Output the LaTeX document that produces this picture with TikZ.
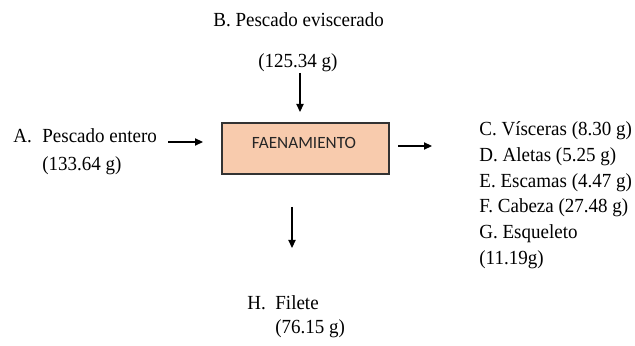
\documentclass[tikz,border=0pt]{standalone}
\usepackage{fontspec}
\setmainfont{Liberation Serif}[FakeStretch=0.95]
\newfontfamily\boxfont{Carlito}
\usetikzlibrary{arrows.meta}
\definecolor{peach}{HTML}{F8CBAD}
\begin{document}
\begin{tikzpicture}[x=0.5pt,y=-0.5pt,
  lbl/.style={anchor=base west,inner sep=0pt,font=\fontsize{10}{13}\selectfont},
  flow/.style={line width=0.6pt,-{Triangle[length=4pt,width=3.6pt]}},
  proc/.style={draw=black!80,line width=0.6pt,fill=peach,minimum width=83.5pt,minimum height=25.5pt,inner sep=0pt}]
\useasboundingbox (0,0) rectangle (635,346);
% process box
\node[proc] (box) at (305.5,148.5) {};
\node[inner sep=0pt,font=\boxfont\fontsize{8.6}{10}\selectfont,text=black!85] (boxtxt) at (304,143) {FAENAMIENTO};
% B input
\node[lbl] (b1) at (213,27) {B. Pescado eviscerado};
\node[lbl] (b2) at (258,68) {(125.34 g)};
% A input
\node[lbl] (a0) at (13,143) {A.};
\node[lbl] (a1) at (42,143) {Pescado entero};
\node[lbl] (a2) at (42,171) {(133.64 g)};
% outputs right
\node[lbl] (c1) at (479,136) {C. Vísceras (8.30 g)};
\node[lbl] (c2) at (479,162) {D. Aletas (5.25 g)};
\node[lbl] (c3) at (479,188) {E. Escamas (4.47 g)};
\node[lbl] (c4) at (479,213) {F. Cabeza (27.48 g)};
\node[lbl] (c5) at (479,239) {G. Esqueleto};
\node[lbl] (c6) at (479,265) {(11.19g)};
% H output
\node[lbl] (h0) at (247,309) {H.};
\node[lbl] (h1) at (275,309) {Filete};
\node[lbl] (h2) at (275,334) {(76.15 g)};
% arrow end points
\coordinate (bs) at (300,73);
\coordinate (be) at (300,112);
\coordinate (as) at (168,142);
\coordinate (ae) at (203,142);
\coordinate (cs) at (398,146);
\coordinate (ce) at (432,146);
\coordinate (hs) at (292,207);
\coordinate (he) at (292,248);
\draw[flow] (bs) -- (be);
\draw[flow] (as) -- (ae);
\draw[flow] (cs) -- (ce);
\draw[flow] (hs) -- (he);
\end{tikzpicture}
\end{document}
